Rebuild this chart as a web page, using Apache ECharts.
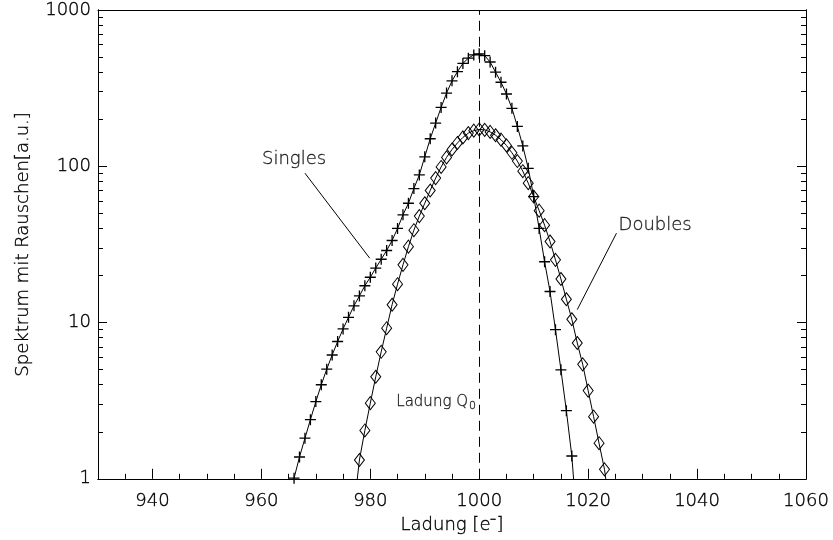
<!DOCTYPE html>
<html>
<head>
<meta charset="utf-8">
<script src="https://cdn.jsdelivr.net/npm/echarts@6/dist/echarts.min.js"></script>
<style>
html,body{margin:0;padding:0;background:#fff;}
#chart{width:833px;height:540px;}
</style>
</head>
<body>
<div id="chart"></div>
<script>
// ---- data ----
const singlesX = [966,967,968,969,970,971,972,973,974,975,976,977,978,979,980,981,982,983,984,985,986,987,988,989,990,991,992,993,994,995,996,997,998,999,1000,1001,1002,1003,1004,1005,1006,1007,1008,1009,1010,1011,1012,1013,1014,1015,1016,1017];
const singlesY = [1.01,1.38,1.82,2.39,3.12,4.0,5.03,6.2,7.56,9.1,10.8,12.8,14.8,17.2,19.5,22.3,25.4,28.9,33.5,40,48.9,58,72,88,115,150,189,238,294,352,403,455,492,516,524,510,465,400,345,290,235,180,135,97,64,40,24.5,15.8,9.0,4.98,2.73,1.40];
// where the drawn curve leaves the frame (no marker)
const singlesEndX = [1017.6];
const singlesEndY = [0.75];

const doublesX = [978,979,980,981,982,983,984,985,986,987,988,989,990,991,992,993,994,995,996,997,998,999,1000,1001,1002,1003,1004,1005,1006,1007,1008,1009,1010,1011,1012,1013,1014,1015,1016,1017,1018,1019,1020,1021,1022,1023];
const doublesY = [1.32,2.04,3.05,4.5,6.5,9.2,13.0,17.6,23.4,30.6,39,48,58,70,84,99,114,128,141,153,163,169,172,171,166,158,148,136,122,108,93,78,64,52,42,33,25.2,19,14.1,10.5,7.4,5.4,3.67,2.5,1.69,1.15];
const doublesStartX = [977.3];
const doublesStartY = [0.8];
const doublesEndX = [1023.6];
const doublesEndY = [0.8];

const xLabelTicks = [940,960,980,1000,1020,1040,1060];
const xMinorTicks = [935,945,950,955,965,970,975,985,990,995,1005,1010,1015,1025,1030,1035,1045,1050,1055];
const yLabelTicks = [1,10,100,1000];
const yMinorTicks = [2,3,4,5,6,7,8,9,20,30,40,50,60,70,80,90,200,300,400,500,600,700,800,900];
const q0 = 1000;

// annotation anchors (data coordinates)
const singlesLabel = {text:'Singles', x:966.0, y:110};
const singlesPointer = [[968.0,90.3],[979.9,25.8]];
const doublesLabel = {text:'Doubles', x:1032.3, y:42.2};
const doublesPointer = [[1025.2,37.3],[1018.0,12.1]];
const q0Label = {x:999.4, y:3.11};

// ---- chart ----
const X0 = 930, X1 = 1060, Y0 = 1, Y1 = 1000;
const FONT = 'DejaVu Sans';
const FW = 200;
const TXT = '#000';
const TB = {textBorderColor:'#000', textBorderWidth:0.35};

function pairs(xs, ys){ return xs.map((x,i)=>[x, ys[i]]); }
function hidden(xs, ys){ return xs.map((x,i)=>({value:[x, ys[i]], symbol:'none'})); }
const plusPath = 'path://M4.4,0H5.6V4.4H10V5.6H5.6V10H4.4V5.6H0V4.4H4.4Z';
const chart = echarts.init(document.getElementById('chart'), null, {renderer:'canvas'});
const axisLineStyle = {color:'#000', width:1};
const txt = (size)=>Object.assign({fontFamily:FONT, fontWeight:FW, fontSize:size, color:TXT}, TB);

function minorY(position){
  return {type:'log', logBase:10, min:Y0, max:Y1, position:position, offset:0,
    axisLine:{show:true, onZero:false, lineStyle:axisLineStyle},
    axisTick:{show:true, inside:true, length:5, interval:0, customValues:yMinorTicks, lineStyle:{color:'#000', width:1}},
    axisLabel:{show:false, customValues:yMinorTicks}, splitLine:{show:false}};
}

chart.setOption({
  animation:false,
  backgroundColor:'#fff',
  grid:{left:98, right:27, top:10, bottom:61, containLabel:false},
  xAxis:[
    {type:'value', min:X0, max:X1, position:'bottom',
     axisLine:{show:true, onZero:false, lineStyle:axisLineStyle},
     axisTick:{show:true, inside:true, length:10, customValues:xLabelTicks, lineStyle:axisLineStyle},
     axisLabel:Object.assign({show:true, customValues:xLabelTicks, margin:14,
                formatter:v=>String(Math.round(v))}, txt(18)),
     splitLine:{show:false},
     name:'Ladung [e\u207B]', nameLocation:'middle', nameGap:38,
     nameTextStyle:txt(18)},
    {type:'value', min:X0, max:X1, position:'top',
     axisLine:{show:true, onZero:false, lineStyle:axisLineStyle},
     axisTick:{show:false}, axisLabel:{show:false}, splitLine:{show:false}},
    {type:'value', min:X0, max:X1, position:'bottom', offset:0,
     axisLine:{show:true, onZero:false, lineStyle:axisLineStyle},
     axisTick:{show:true, inside:true, length:5, interval:0, customValues:xMinorTicks, lineStyle:{color:'#000', width:1}},
     axisLabel:{show:false, customValues:xMinorTicks}, splitLine:{show:false}}
  ],
  yAxis:[
    {type:'log', logBase:10, min:Y0, max:Y1, position:'left',
     axisLine:{show:true, onZero:false, lineStyle:axisLineStyle},
     axisTick:{show:true, inside:true, length:9, customValues:yLabelTicks, lineStyle:axisLineStyle},
     axisLabel:Object.assign({show:true, customValues:yLabelTicks, margin:7,
                formatter:v=>String(Math.round(v))}, txt(18)),
     splitLine:{show:false},
     name:'Spektrum mit Rauschen[a.u.]', nameLocation:'middle', nameGap:66, nameRotate:90,
     nameTextStyle:txt(18)},
    {type:'log', logBase:10, min:Y0, max:Y1, position:'right',
     axisLine:{show:true, onZero:false, lineStyle:axisLineStyle},
     axisTick:{show:true, inside:true, length:9, customValues:yLabelTicks, lineStyle:axisLineStyle},
     axisLabel:{show:false}, splitLine:{show:false}},
    minorY('left'),
    minorY('right')
  ],
  series:[
    {name:'Singles', type:'line', xAxisIndex:0, yAxisIndex:0,
     data: pairs(singlesX, singlesY).concat(hidden(singlesEndX, singlesEndY)),
     symbol:plusPath, symbolSize:11, showSymbol:true, showAllSymbol:true, clip:true,
     lineStyle:{color:'#000', width:1}, itemStyle:{color:'#000'},
     markLine:{silent:true, symbol:['none','none'], label:{show:false},
       lineStyle:{color:'#000', width:1, type:[10,6]},
       data:[
         {xAxis:q0},
         [{coord:singlesPointer[0], lineStyle:{type:'solid'}}, {coord:singlesPointer[1]}],
         [{coord:doublesPointer[0], lineStyle:{type:'solid'}}, {coord:doublesPointer[1]}]
       ]}
    },
    {name:'Doubles', type:'line', xAxisIndex:0, yAxisIndex:0,
     data: hidden(doublesStartX, doublesStartY).concat(pairs(doublesX, doublesY)).concat(hidden(doublesEndX, doublesEndY)),
     symbol:'diamond', symbolSize:[10,13], showSymbol:true, showAllSymbol:true, clip:true,
     lineStyle:{color:'#000', width:1},
     itemStyle:{color:'rgba(0,0,0,0)', borderColor:'#000', borderWidth:1}},
    {name:'labels', type:'scatter', xAxisIndex:0, yAxisIndex:0, symbolSize:0, silent:true,
     data:[
       {value:[singlesLabel.x, singlesLabel.y], label:{formatter:singlesLabel.text}},
       {value:[doublesLabel.x, doublesLabel.y], label:{formatter:doublesLabel.text}}
     ],
     label:Object.assign({show:true, position:[0,0], align:'center', verticalAlign:'middle'}, txt(18))},
    {name:'q0', type:'scatter', xAxisIndex:0, yAxisIndex:0, symbolSize:0, silent:true,
     data:[[q0Label.x, q0Label.y]],
     label:{show:true, position:[0,0], align:'right', verticalAlign:'middle',
            formatter:'{a|Ladung Q}{s|0}',
            rich:{a:txt(15), s:Object.assign(txt(11), {padding:[8,0,0,1]})}}}
  ]
});
</script>
</body>
</html>
